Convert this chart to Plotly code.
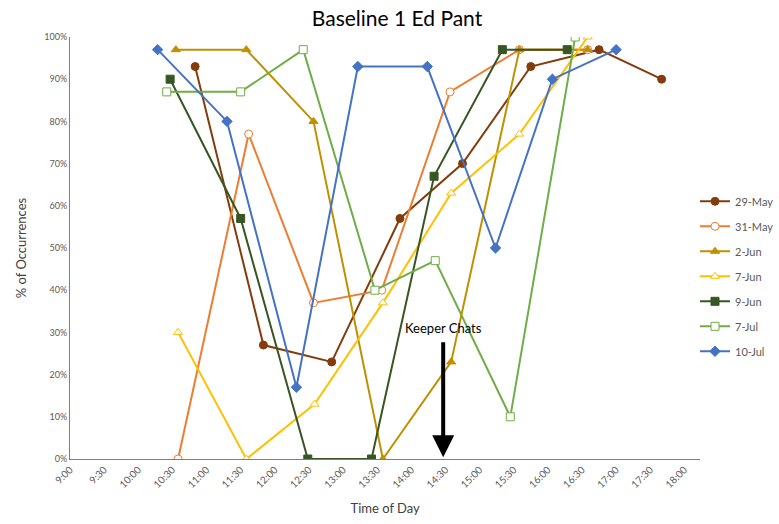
import plotly.graph_objects as go

# ---- data ----
tick_labels = ["9:00", "9:30", "10:00", "10:30", "11:00", "11:30", "12:00", "12:30",
               "13:00", "13:30", "14:00", "14:30", "15:00", "15:30", "16:00", "16:30",
               "17:00", "17:30", "18:00"]
y_tick_labels = ["0%", "10%", "20%", "30%", "40%", "50%", "60%", "70%", "80%", "90%", "100%"]

may29_t = ["10:50", "11:50", "12:50", "13:50", "14:45", "15:45", "16:45", "17:40"]
may29_v = [93, 27, 23, 57, 70, 93, 97, 90]

may31_t = ["10:35", "11:37", "12:34", "13:34", "14:34", "15:35", "16:35"]
may31_v = [0, 77, 37, 40, 87, 97, 97]

jun2_t = ["10:33", "11:35", "12:34", "13:35", "14:35", "15:35", "16:35"]
jun2_v = [97, 97, 80, 0, 23, 97, 97]

jun7_t = ["10:35", "11:35", "12:35", "13:35", "14:35", "15:35", "16:35"]
jun7_v = [30, 0, 13, 37, 63, 77, 100]

jun9_t = ["10:28", "11:30", "12:29", "13:25", "14:20", "15:20", "16:17"]
jun9_v = [90, 57, 0, 0, 67, 97, 97]

jul7_t = ["10:25", "11:30", "12:25", "13:28", "14:21", "15:27", "16:24"]
jul7_v = [87, 87, 97, 40, 47, 10, 100]

jul10_t = ["10:17", "11:18", "12:19", "13:13", "14:14", "15:14", "16:04", "17:00"]
jul10_v = [97, 80, 17, 93, 93, 50, 90, 97]

annot_time = "14:28"
annot_text = "Keeper Chats"


def hrs(t):
    h, m = t.split(":")
    return int(h) + int(m) / 60.0


series = [
    ("29-May", may29_t, may29_v, "#843C0C", "circle", True),
    ("31-May", may31_t, may31_v, "#ED7D31", "circle", False),
    ("2-Jun", jun2_t, jun2_v, "#BF9000", "triangle-up", True),
    ("7-Jun", jun7_t, jun7_v, "#FFC000", "triangle-up", False),
    ("9-Jun", jun9_t, jun9_v, "#375623", "square", True),
    ("7-Jul", jul7_t, jul7_v, "#70AD47", "square", False),
    ("10-Jul", jul10_t, jul10_v, "#4472C4", "diamond", True),
]

fig = go.Figure()
for i, (name, ts, vs, col, sym, filled) in enumerate(series):
    fig.add_trace(go.Scatter(
        x=[hrs(t) for t in ts], y=vs, name=name, mode="lines+markers",
        legendgroup=f"g{i}",
        line=dict(color=col, width=2),
        marker=dict(symbol=sym, size=8,
                    color=col if filled else "white",
                    line=dict(color=col, width=1)),
    ))

ax = hrs(annot_time)
fig.add_annotation(x=ax, y=0.4, ax=ax, ay=28, xref="x", yref="y", axref="x", ayref="y",
                   showarrow=True, arrowhead=2, arrowsize=1.1, arrowwidth=4, arrowcolor="black",
                   text="")
fig.add_annotation(x=ax, y=31, xref="x", yref="y", text=annot_text, showarrow=False,
                   font=dict(size=13, color="black", family="Lato"))

# plot area spans x 70..703 px; paper spans 70..779 px
paper_w = 779 - 70
fig.update_layout(
    width=779, height=524,
    margin=dict(l=70, r=0, t=37, b=65),
    paper_bgcolor="white", plot_bgcolor="white",
    font=dict(family="Lato", color="#595959"),
    title=dict(text="Baseline 1 Ed Pant", x=397 / 779, xanchor="center", xref="container",
               y=0.965, yanchor="middle",
               font=dict(size=21, color="black", family="Lato")),
    showlegend=True,
    legend=dict(x=(698 - 70) / paper_w, xanchor="left", y=0.645, yanchor="top",
                font=dict(size=11, color="#595959", family="Lato"),
                traceorder="grouped", tracegroupgap=6, bgcolor="rgba(0,0,0,0)"),
)
fig.update_xaxes(
    domain=[0, 633 / paper_w],
    range=[hrs("9:00"), hrs("9:00") + 554 / 60.0],
    tickvals=[hrs(t) for t in tick_labels], ticktext=tick_labels,
    tickangle=-45, tickfont=dict(size=10, color="#595959"),
    showgrid=False, zeroline=False, showline=True, linecolor="#7f7f7f", linewidth=1,
    ticks="", title=dict(text="Time of Day", font=dict(size=13, color="#404040"), standoff=14),
)
fig.update_yaxes(
    range=[0, 100], tickvals=[int(s.rstrip("%")) for s in y_tick_labels], ticktext=y_tick_labels,
    tickfont=dict(size=9, color="#595959"),
    showgrid=False, zeroline=False, showline=True, linecolor="#7f7f7f", linewidth=1,
    ticks="", title=dict(text="% of Occurrences", font=dict(size=13, color="#404040"), standoff=14),
)

fig.write_html("out.html")
